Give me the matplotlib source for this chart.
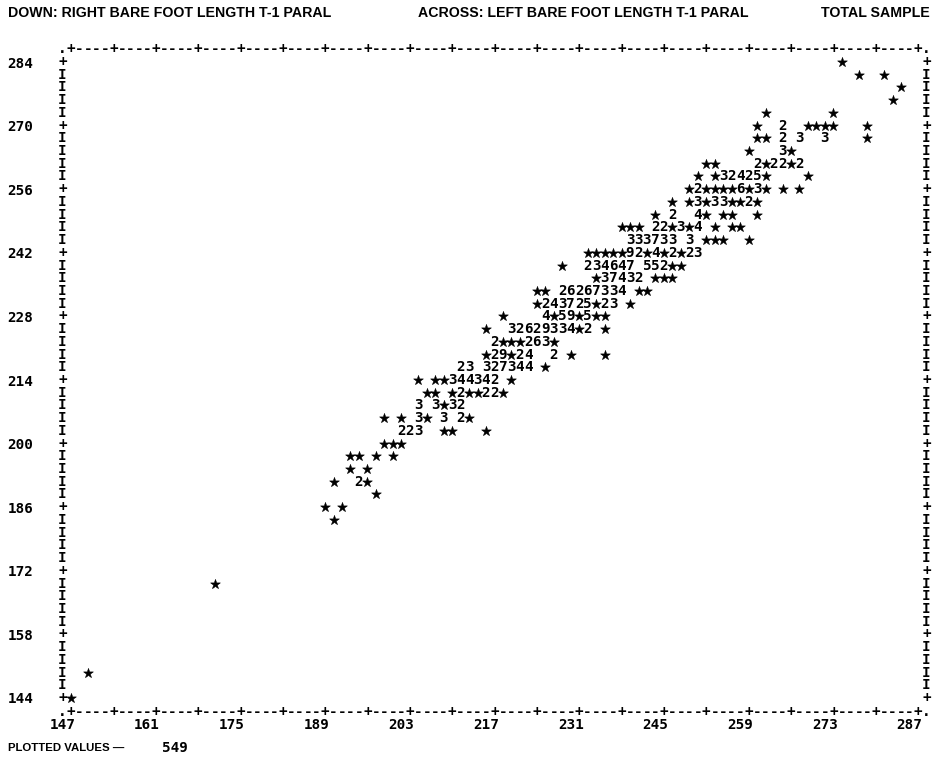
import matplotlib
matplotlib.use("Agg")
import matplotlib.pyplot as plt
from matplotlib.transforms import ScaledTranslation
from matplotlib.font_manager import FontProperties

# ---------------- data ----------------
title_down = "DOWN: RIGHT BARE FOOT LENGTH T-1 PARAL"
title_across = "ACROSS: LEFT BARE FOOT LENGTH T-1 PARAL"
title_sample = "TOTAL SAMPLE"
plotted_label = "PLOTTED VALUES \u2014"
plotted_count = 549

x_ticks = [147, 161, 175, 189, 203, 217, 231, 245, 259, 273, 287]
y_ticks = [284, 270, 256, 242, 228, 214, 200, 186, 172, 158, 144]
x_cell = 1.4   # width of one print position (left foot, mm)
y_cell = 2.8   # height of one print line (right foot, mm)

# (right foot, left foot of first print position, printed symbols)
# '*' = one subject, digit = number of subjects in that print cell
right_len = [284.0, 281.2, 281.2, 278.4, 275.6, 272.8, 272.8,
             270.0, 270.0, 270.0, 270.0,
             267.2, 267.2, 267.2, 267.2, 267.2,
             264.4, 264.4, 261.6, 261.6,
             258.8, 258.8, 258.8, 256.0, 256.0, 256.0,
             253.2, 253.2, 250.4, 250.4, 250.4, 250.4, 250.4,
             247.6, 247.6, 247.6, 247.6, 244.8, 244.8, 244.8, 244.8,
             242.0, 239.2, 239.2, 239.2, 236.4, 236.4,
             233.6, 233.6, 233.6, 230.8, 230.8, 228.0, 228.0,
             225.2, 225.2, 225.2, 222.4,
             219.6, 219.6, 219.6, 219.6, 216.8, 216.8, 216.8,
             214.0, 214.0, 214.0, 211.2, 211.2, 208.4, 208.4,
             205.6, 205.6, 205.6, 205.6, 205.6, 202.8, 202.8, 202.8,
             200.0, 197.2, 197.2, 197.2, 194.4, 194.4, 191.6, 191.6,
             188.8, 186.0, 186.0, 183.2, 169.2, 149.6, 144.0]
left_len = [274.4, 277.2, 281.4, 284.2, 282.8, 261.8, 273.0,
            260.4, 264.6, 268.8, 278.6,
            260.4, 264.6, 267.4, 271.6, 278.6,
            259.0, 264.6, 252.0, 260.4,
            250.6, 253.4, 268.8, 249.2, 264.6, 267.4,
            246.4, 249.2, 243.6, 246.4, 250.6, 254.8, 260.4,
            238.0, 243.6, 253.4, 256.2, 239.4, 249.2, 252.0, 259.0,
            232.4, 228.2, 232.4, 242.2, 233.8, 243.6,
            224.0, 228.2, 240.8, 224.0, 239.4, 218.4, 225.4,
            215.6, 219.8, 235.2, 217.0,
            215.6, 226.8, 229.6, 235.2, 211.4, 215.6, 225.4,
            204.4, 207.2, 219.8, 205.8, 210.0, 204.4, 207.2,
            198.8, 201.6, 204.4, 208.6, 211.4, 201.6, 208.6, 215.6,
            198.8, 193.2, 197.4, 200.2, 193.2, 196.0, 190.4, 194.6,
            197.4, 189.0, 191.8, 190.4, 170.8, 149.8, 147.0]
symbols = ["*", "*", "*", "*", "*", "*", "*",
           "*", "2", "****", "*",
           "**", "2", "3", "3", "*",
           "*", "3*", "**", "2*22*2",
           "*", "*32425*", "*", "*2****6*3*", "*", "*",
           "*", "*3*33**2*", "*", "2", "4*", "**", "*",
           "***", "22*3*4", "*", "**", "333733", "3", "***", "*",
           "*****92*4*2*23", "*", "234647", "552**", "*37432", "***",
           "**", "26267334", "**", "*243725*23", "*", "*", "4*59*5**",
           "*", "32629334*2", "*", "2***263*",
           "*29*24", "2", "*", "*", "23", "327344", "*",
           "*", "**344342", "*", "**", "*2**22*", "3", "3*32",
           "*", "*", "3*", "3", "2*", "223", "**", "*",
           "***", "**", "*", "*", "*", "*", "*", "2*",
           "*", "*", "*", "*", "*", "*", "*"]

# ---------------- figure ----------------
W, H = 937, 757
fig = plt.figure(figsize=(W / 100, H / 100), dpi=100)
fig.patch.set_facecolor("white")

left_px, right_px, top_px, bot_px = 62.5, 926.5, 49.3, 710.7
ax = fig.add_axes([left_px / W, (H - bot_px) / H,
                   (right_px - left_px) / W, (bot_px - top_px) / H])
x_lo, x_hi = x_ticks[0] - x_cell, x_ticks[-1] + x_cell
y_lo, y_hi = y_ticks[-1] - y_cell, y_ticks[0] + y_cell
ax.set_xlim(x_lo, x_hi)
ax.set_ylim(y_lo, y_hi)
for s in ax.spines.values():
    s.set_visible(False)
ax.set_facecolor("white")

pfont = FontProperties(family="DejaVu Sans Mono", weight="bold", size=10.3)
hfont = FontProperties(family="Liberation Sans", weight="bold", size=10.2)

# plotted cells
star_x, star_y = [], []
for r, l0, sym in zip(right_len, left_len, symbols):
    for k, ch in enumerate(sym):
        lx = l0 + k * x_cell
        if ch == "*":
            star_x.append(lx)
            star_y.append(r)
        else:
            ax.text(lx, r, ch, ha="center", va="center", fontproperties=pfont,
                    color="black")
ax.scatter(star_x, star_y, marker="*", s=54, color="black", linewidths=0.4,
           edgecolors="black", zorder=3)

# printer-style frame
n_cols = int(round((x_ticks[-1] - x_ticks[0]) / x_cell))
n_rows = int(round((y_ticks[0] - y_ticks[-1]) / y_cell))
for yb, vav in ((y_hi, "center"), (y_lo, "center_baseline")):
    for c in range(-1, n_cols + 2):
        xv = x_ticks[0] + c * x_cell
        if c in (-1, n_cols + 1):
            ch = "."
        elif c % 5 == 0:
            ch = "+"
        else:
            ch = "-"
        ax.text(xv, yb, ch, ha="center", va=vav,
                fontproperties=pfont, color="black", clip_on=False)
for xb in (x_lo, x_hi):
    for r in range(0, n_rows + 1):
        yv = y_ticks[0] - r * y_cell
        ch = "+" if r % 5 == 0 else "I"
        ax.text(xb, yv, ch, ha="center", va="center", fontproperties=pfont,
                color="black", clip_on=False)

# ticks
ax.set_xticks(x_ticks)
ax.set_xticklabels([str(v) for v in x_ticks])
ax.set_yticks(y_ticks)
ax.set_yticklabels([str(v) for v in y_ticks])
ax.tick_params(length=0)
ax.tick_params(axis="x", pad=5)
ax.tick_params(axis="y", pad=21)
shift = ScaledTranslation(-8.5 / 100, 0, fig.dpi_scale_trans)
for lab in ax.get_xticklabels():
    lab.set_fontproperties(pfont)
    lab.set_transform(lab.get_transform() + shift)
for lab in ax.get_yticklabels():
    lab.set_fontproperties(pfont)

# header / footer
fig.text(8 / W, 1 - 13 / H, title_down, fontproperties=hfont, ha="left", va="center")
fig.text(418 / W, 1 - 13 / H, title_across, fontproperties=hfont, ha="left", va="center")
fig.text(930 / W, 1 - 13 / H, title_sample, fontproperties=hfont, ha="right", va="center")
fig.text(8 / W, 1 - 748 / H, plotted_label,
         fontproperties=FontProperties(family="Liberation Sans", weight="bold", size=8.2),
         ha="left", va="center")
fig.text(175 / W, 1 - 748 / H, str(plotted_count), fontproperties=pfont,
         ha="center", va="center")

fig.savefig("out.png", dpi=100, facecolor="white")
